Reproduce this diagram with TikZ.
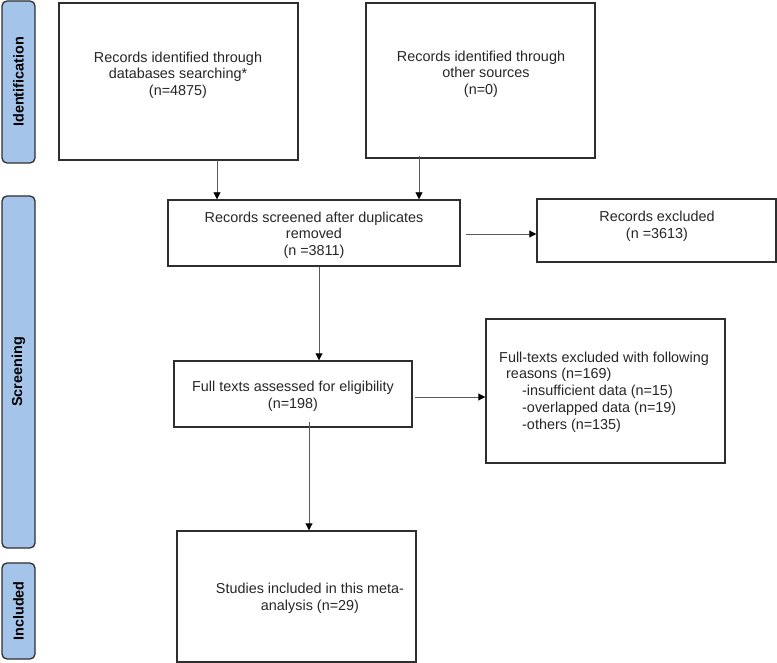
\documentclass[tikz,border=0pt]{standalone}
\usepackage{fontspec}
\setmainfont{Liberation Sans}
\usetikzlibrary{arrows.meta,positioning}
\definecolor{phase}{HTML}{A4C4EA}
\definecolor{edge}{HTML}{2E2E2E}
\definecolor{conn}{HTML}{5A5A5A}
\tikzset{
  boxnode/.style={draw=edge, line width=1.4pt, rectangle, inner sep=0pt},
  phasebox/.style={draw=edge, fill=phase, line width=1.3pt, rounded corners=5pt, inner sep=0pt},
  phasetxt/.style={rotate=90, font=\fontsize{14.4}{16}\selectfont\bfseries, text=black},
  txt/.style={align=center, inner sep=0pt, font=\fontsize{14.4}{16.6}\selectfont, text=black!85},
  arr/.style={draw=conn, line width=0.9pt, -{Triangle[length=7pt,width=7pt,color=black]}},
  plain/.style={draw=conn, line width=0.9pt}
}
\begin{document}
\begin{tikzpicture}[x=1pt,y=-1pt]
\useasboundingbox (0,0) rectangle (777,663);
% phase labels
\node[phasebox, minimum width=33pt, minimum height=162pt] (pid) at (18.5,82) {};
\node[phasetxt] (pidt) at (pid.center) {Identification};
\node[phasebox, minimum width=33pt, minimum height=352pt] (psc) at (18.5,372) {};
\node[phasetxt] (psct) at (psc.center) {Screening};
\node[phasebox, minimum width=33pt, minimum height=96pt] (pin) at (18.5,611) {};
\node[phasetxt] (pint) at (pin.center) {Included};
% boxes
\node[boxnode, minimum width=239pt, minimum height=157pt] (b1) at (178.5,81.5) {};
\node[txt] (t1) at (178,75) {Records identified through\\databases searching*\\(n=4875)};
\node[boxnode, minimum width=229pt, minimum height=155pt] (b2) at (480.5,80.5) {};
\node[txt] (t2) at (481,74) {Records identified through\\\hspace*{10pt}other sources\\(n=0)};
\node[boxnode, minimum width=292pt, minimum height=66pt] (b3) at (314,233) {};
\node[txt] (t3) at (314,235) {Records screened after duplicates\\removed\\(n =3811)};
\node[boxnode, minimum width=239pt, minimum height=63pt] (b4) at (656.5,230.5) {};
\node[txt] (t4) at (657,226) {Records excluded\\(n =3613)};
\node[boxnode, minimum width=238pt, minimum height=66pt] (b5) at (293,394) {};
\node[txt] (t5) at (293,396) {Full texts assessed for eligibility\\(n=198)};
\node[boxnode, minimum width=239pt, minimum height=144pt] (b6) at (605.5,391) {};
\node[txt, align=left, anchor=west, font=\fontsize{14.4}{16.75}\selectfont] (t6) at (499,392)
  {Full-texts excluded with following\\\hspace*{7pt}reasons (n=169)\\\hspace*{23pt}-insufficient data (n=15)\\\hspace*{23pt}-overlapped data (n=19)\\\hspace*{23pt}-others (n=135)};
\node[boxnode, minimum width=239pt, minimum height=131pt] (b7) at (296.5,596.5) {};
\node[txt] (t7) at (310,598) {Studies included in this meta-\\analysis (n=29)};
% connector anchors
\coordinate (c3e) at ([xshift=5pt,yshift=-1pt]b3.east);
\coordinate (c5e) at ([xshift=2pt,yshift=-3pt]b5.east);
% connectors
\draw[arr] ([xshift=38.5pt,yshift=1pt]b1.south) -- ([xshift=38.5pt]b1.south |- b3.north);
\draw[arr] ([xshift=-61.5pt,yshift=3pt]b2.south) -- ([xshift=-61.5pt]b2.south |- b3.north);
\draw[arr] (c3e) -- (b4.west |- c3e);
\draw[arr] ([xshift=5pt]b3.south) -- ([xshift=5pt]b3.south |- b5.north);
\draw[arr] (c5e) -- (b6.west |- c5e);
\draw[arr] ([xshift=16pt,yshift=6pt]b5.south) -- ([xshift=16pt]b5.south |- b7.north);
\end{tikzpicture}
\end{document}
